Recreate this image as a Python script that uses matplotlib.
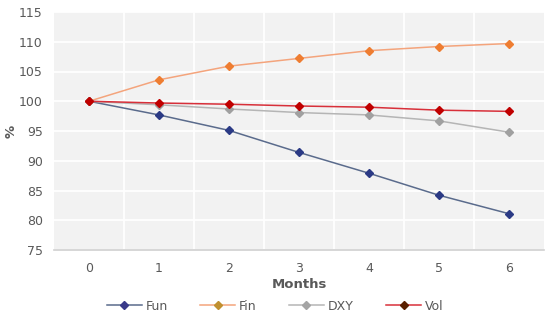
import numpy as np
import matplotlib.pyplot as plt
from matplotlib.lines import Line2D

months = [0, 1, 2, 3, 4, 5, 6]
fun = [100, 97.7, 95.1, 91.4, 87.9, 84.2, 81.1]
fin = [100, 103.6, 105.9, 107.2, 108.5, 109.2, 109.7]
dxy = [100, 99.4, 98.7, 98.1, 97.7, 96.7, 94.8]
vol = [100, 99.7, 99.5, 99.2, 99.0, 98.5, 98.3]
names = ['Fun', 'Fin', 'DXY', 'Vol']

# line colour, marker colour, legend marker colour
styles = [
    ('#5A6B8C', '#2B3A85', '#3A3A8A'),
    ('#F4A47C', '#EE7D31', '#C09030'),
    ('#B5B5B5', '#A0A0A0', '#A5A5A5'),
    ('#D8303A', '#C00000', '#5A2000'),
]

plt.rcParams['font.family'] = 'DejaVu Sans'
fig = plt.figure(figsize=(5.5, 3.2), dpi=100)
ax = fig.add_axes([54 / 550, 70 / 320, 490 / 550, 238 / 320])
ax.set_facecolor('#F2F2F2')

handles = []
for vals, name, (lc, mc, legc) in zip([fun, fin, dxy, vol], names, styles):
    ax.plot(months, vals, color=lc, lw=1.1, marker='D', ms=4.5,
            markerfacecolor=mc, markeredgecolor=mc, zorder=3)
    handles.append(Line2D([], [], color=lc, lw=1.1, marker='D', ms=4,
                          markerfacecolor=legc, markeredgecolor=legc))

ax.set_xlim(-0.5, 6.5)
ax.set_ylim(75, 115)
ax.set_yticks(np.arange(75, 116, 5))
ax.set_xticks(months)
ax.set_xticks(np.arange(0.5, 6, 1), minor=True)
ax.grid(False)
ax.yaxis.grid(True, color='white', lw=1.3)
ax.xaxis.grid(True, which='minor', color='white', lw=1.3)
ax.set_axisbelow(True)

for s in ['top', 'right', 'left']:
    ax.spines[s].set_visible(False)
ax.spines['bottom'].set_color('#D0D0D0')
ax.spines['bottom'].set_linewidth(1.2)
ax.tick_params(which='both', length=0, colors='#595959', labelsize=9)
ax.tick_params(axis='x', pad=9)
ax.tick_params(axis='y', pad=8)

ax.set_xlabel('Months', fontsize=9.5, fontweight='bold', color='#595959', labelpad=2)
ax.set_ylabel('%', fontsize=9.5, fontweight='bold', color='#595959', labelpad=1)

fig.legend(handles, names, loc='center', bbox_to_anchor=(0.5, 14 / 320), ncol=4,
           frameon=False, fontsize=9, handlelength=2.8, columnspacing=2.6,
           handletextpad=0.3, labelcolor='#595959')

fig.savefig('out.png', dpi=100, facecolor='white')
